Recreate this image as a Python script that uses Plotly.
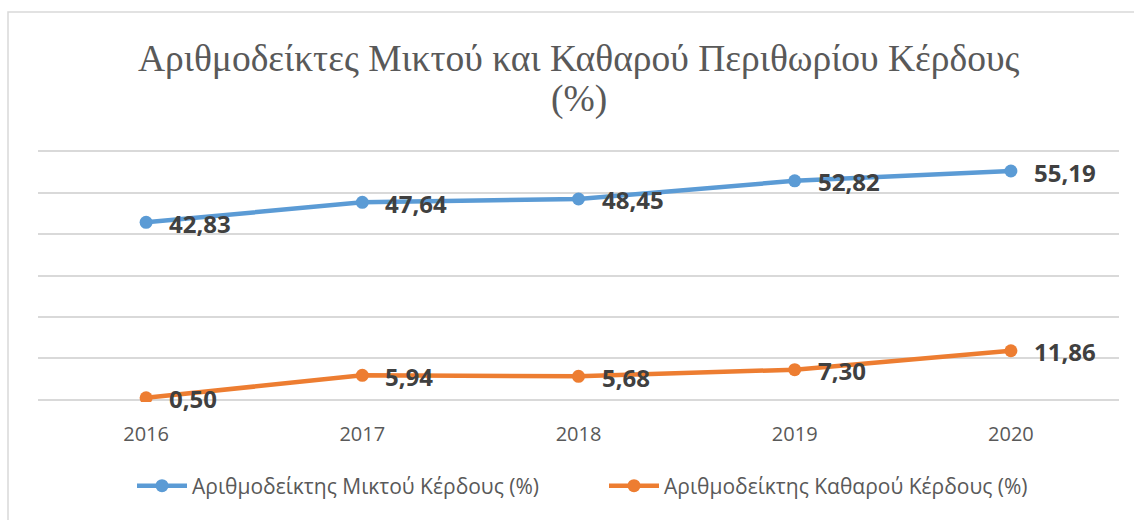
import plotly.graph_objects as go

years = ["2016", "2017", "2018", "2019", "2020"]
gross_margin = [42.83, 47.64, 48.45, 52.82, 55.19]
net_margin = [0.50, 5.94, 5.68, 7.30, 11.86]
series_names = ["Αριθμοδείκτης Μικτού Κέρδους (%)", "Αριθμοδείκτης Καθαρού Κέρδους (%)"]
title_lines = ["Αριθμοδείκτες Μικτού και Καθαρού Περιθωρίου Κέρδους", "(%)"]

BLUE = "#5B9BD5"
ORANGE = "#ED7D31"
LABEL = "#404040"
GRAY = "#595959"

W, H = 1134, 520
ml, mr, mt, mb = 38, 15, 149, 118
pw, ph = W - ml - mr, H - mt - mb


def py(px):
    """pixel row -> paper y"""
    return (H - mb - px) / ph


def pxx(px):
    return (px - ml) / pw


fig = go.Figure()
legends = ["legend", "legend2"]
for k, (vals, name, col) in enumerate([(gross_margin, series_names[0], BLUE),
                                        (net_margin, series_names[1], ORANGE)]):
    fig.add_trace(go.Scatter(
        x=years, y=vals, name=name, mode="lines+markers",
        line=dict(color=col, width=4.5),
        marker=dict(color=col, size=13),
        hoverinfo="skip", legend=legends[k],
    ))
    for i, yv in enumerate(vals):
        fig.add_annotation(
            x=i, y=yv, xref="x", yref="y",
            text=f"{yv:.2f}".replace(".", ","),
            showarrow=False, xanchor="left", yanchor="middle",
            xshift=21, yshift=-1,
            font=dict(family="Open Sans", size=24, color=LABEL, weight="bold"),
        )

# title (two lines, tight spacing)
for txt, ypx in zip(title_lines, [58, 99]):
    fig.add_annotation(
        x=0.5, xref="paper", y=py(ypx), yref="paper",
        text=txt, showarrow=False, xanchor="center", yanchor="middle",
        font=dict(family="Liberation Serif", size=37.5, color=GRAY),
    )

# chart frame
fig.add_shape(
    type="rect", xref="paper", yref="paper",
    x0=pxx(8), x1=pxx(W + 10), y0=py(H + 10), y1=py(12),
    line=dict(color="#D9D9D9", width=1.5), fillcolor="rgba(0,0,0,0)", layer="below",
)

legend_font = dict(family="Open Sans", size=21, color=GRAY)
fig.update_layout(
    width=W, height=H,
    margin=dict(l=ml, r=mr, t=mt, b=mb),
    paper_bgcolor="white", plot_bgcolor="white",
    showlegend=True,
    legend=dict(x=pxx(132), xanchor="left", y=py(486), yanchor="middle",
                font=legend_font, itemwidth=50, bgcolor="rgba(0,0,0,0)"),
    legend2=dict(x=pxx(604), xanchor="left", y=py(486), yanchor="middle",
                 font=legend_font, itemwidth=50, bgcolor="rgba(0,0,0,0)"),
    xaxis=dict(
        type="category", range=[-0.5, 4.5], showgrid=False, zeroline=False,
        showline=False, ticks="outside", ticklen=14, tickcolor="rgba(0,0,0,0)",
        tickfont=dict(family="Open Sans", size=20, color=GRAY),
    ),
    yaxis=dict(
        range=[-0.5, 60.5], tickvals=[0, 10, 20, 30, 40, 50, 60],
        showgrid=True, gridcolor="#D9D9D9", gridwidth=1.5,
        zeroline=False, showticklabels=False, showline=False,
    ),
)

fig.write_html("out.html", config={"displayModeBar": False},
               post_script="document.body.style.margin='0';")
